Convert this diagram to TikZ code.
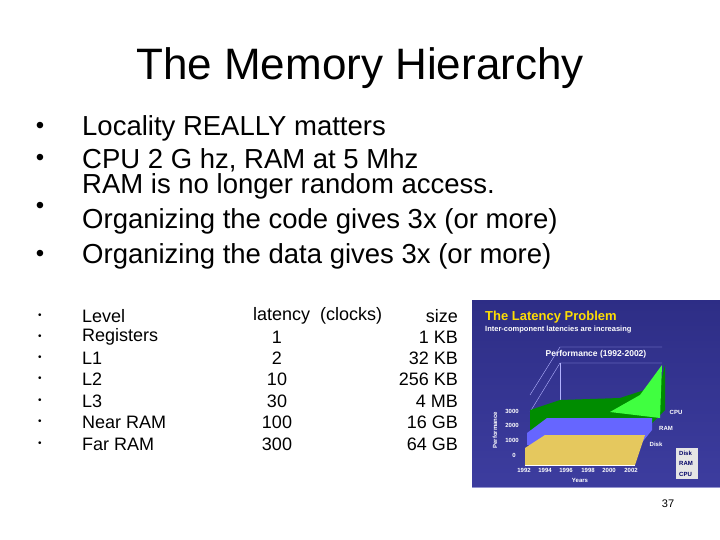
\documentclass[tikz,border=0pt]{standalone}
\usepackage{fontspec}
\setmainfont{Liberation Sans}
\begin{document}
\begin{tikzpicture}[x=1pt,y=-1pt,
  big/.style={anchor=west,font=\fontsize{27.5}{30}\selectfont,inner sep=0},
  bul/.style={anchor=center,font=\fontsize{24}{26}\selectfont,inner sep=0},
  sm/.style={anchor=west,font=\fontsize{18}{20}\selectfont,inner sep=0},
  smb/.style={anchor=center,font=\fontsize{10}{12}\selectfont,inner sep=0},
  num/.style={anchor=east,font=\fontsize{18}{20}\selectfont,inner sep=0},
  ct/.style={text=white,inner sep=0,font=\fontsize{6}{7}\selectfont\bfseries}]
\useasboundingbox (0,0) rectangle (720,540);
\fill[white] (0,0) rectangle (720,540);
\node[font=\fontsize{44}{48}\selectfont,inner sep=0] (title) at (360,68) {The Memory Hierarchy};
% main bullets
\foreach \y/\t [count=\i] in {128/Locality REALLY matters,160/{CPU 2 G hz, RAM at 5 Mhz},186/RAM is no longer random access.,221/Organizing the code gives 3x (or more),256/Organizing the data gives 3x (or more)}
  \node[big] (m\i) at (82,\y) {\t};
\foreach \y [count=\i] in {128,160,208,256} \node[bul] (b\i) at (40,\y) {•};
% table
\foreach \y/\a [count=\i] in {316/Level,337/Registers,358/L1,379/L2,401/L3,422/Near RAM,444/Far RAM}{
  \node[smb] (sb\i) at (40,\y) {•};
  \node[sm] (l\i) at (82,\y) {\a};}
\node[sm] (lh) at (253,316) {latency\ \ (clocks)};
\node[num] (sh) at (458,316) {size};
\foreach \y/\a/\b [count=\i] in {337/1/1 KB,358/2/32 KB,379/10/256 KB,401/30/4 MB,422/100/16 GB,444/300/64 GB}{
  \node[font=\fontsize{18}{20}\selectfont,inner sep=0] (lat\i) at (277,\y) {\a};
  \node[num] (sz\i) at (458,\y) {\b};}
% chart image
\fill[blue!45!black!85] (472,300) rectangle (720,487);
\shade[top color=blue!40!black!80,bottom color=blue!55!black!70,opacity=.6] (472,300) rectangle (720,487);
\node[anchor=west,inner sep=0,text=yellow!80!orange,font=\fontsize{13}{14}\selectfont\bfseries] (ct1) at (485,317) {The Latency Problem};
\node[anchor=west,ct,font=\fontsize{7.5}{8}\selectfont\bfseries] (ct2) at (485,330) {Inter-component latencies are increasing};
\node[ct,font=\fontsize{8.5}{9}\selectfont\bfseries] (ct3) at (596,354) {Performance (1992-2002)};
% back walls
\draw[white!70!blue,thin] (530,412) -- (560,363) -- (662,363) (530,395)--(560,347)--(662,347);
\draw[white!70!blue,thin] (560,363)--(560,455);
% CPU (green)
\fill[green!55!black] (530,410) -- (560,400) -- (620,398) -- (660,385) -- (665,365) -- (665,410) -- (645,430) -- (530,430) -- cycle;
\fill[green!75!white] (610,412) -- (640,395) -- (662,365) -- (660,418) -- cycle;
% RAM
\fill[blue!60!white] (527,433) -- (547,418) -- (652,418) -- (652,430) -- (640,445) -- (527,445) -- cycle;
% Disk
\fill[yellow!45!brown!80!white] (525,448) -- (545,435) -- (645,435) -- (635,465) -- (525,465) -- cycle;
\draw[white!60] (525,465)--(635,465);
\node[ct] at (512,411) {3000};
\node[ct] at (512,425) {2000};
\node[ct] at (512,440) {1000};
\node[ct] at (514,455) {0};
\foreach \x/\yr in {524/1992,545/1994,566/1996,588/1998,609/2000,631/2002} \node[ct] at (\x,470) {\yr};
\node[ct] at (580,480) {Years};
\node[ct,rotate=90] at (495,430) {Performance};
\node[ct] at (676,412) {CPU};
\node[ct] at (666,428) {RAM};
\node[ct] at (656,444) {Disk};
\fill[white!90!black] (676,448) rectangle (698,479);
\node[ct,text=blue!40!black,anchor=west] at (679,453) {Disk};
\node[ct,text=blue!40!black,anchor=west] at (679,463) {RAM};
\node[ct,text=blue!40!black,anchor=west] at (679,474) {CPU};
\node[font=\fontsize{11}{12}\selectfont,inner sep=0] (pg) at (668,504) {37};
\end{tikzpicture}
\end{document}
